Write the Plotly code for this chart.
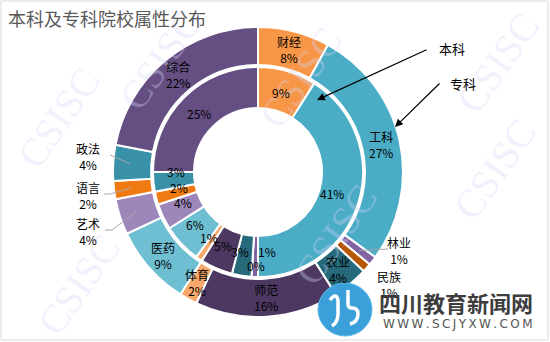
import math
import plotly.graph_objects as go

# ---------------- data ----------------
categories = ["财经", "工科", "林业", "民族", "农业", "师范", "体育", "医药", "艺术", "语言", "政法", "综合"]
benke_pct = [9, 41, 1, 0, 3, 5, 1, 6, 4, 2, 3, 25]      # inner ring (本科)
zhuanke_pct = [8, 27, 1, 1, 4, 16, 2, 9, 4, 2, 4, 22]   # outer ring (专科)
title_text = "本科及专科院校属性分布"
series_names = ["本科", "专科"]

# ---------------- style ----------------
colors = ["#F79646", "#4BACC6", "#8064A2", "#B65708", "#25697A", "#4C3860",
          "#F7A86A", "#6FBFD3", "#9C86BA", "#F07A12", "#3891A6", "#654E82"]
W, H = 550, 342
CX, CY = 258, 172
R_OUT, R_OUT_IN = 145, 107
R_IN, R_IN_IN = 105, 64
FONT = "Noto Sans CJK SC, Noto Sans, sans-serif"


def px(x):
    return x / W


def py(y):
    return 1 - y / H


def dom(r):
    return dict(x=[(CX - r) / W, (CX + r) / W], y=[(H - CY - r) / H, (H - CY + r) / H])


def mid_angles(vals):
    tot = float(sum(vals))
    out, cum = [], 0.0
    for v in vals:
        out.append((cum + v / 2) / tot * 2 * math.pi)
        cum += v
    return out


def polar(theta, r):
    return CX + r * math.sin(theta), CY - r * math.cos(theta)


def note(x, y, text, size=12, color="#000000", family=FONT, xanchor="center", **kw):
    d = dict(x=px(x), y=py(y), xref="paper", yref="paper", text=text, showarrow=False,
             xanchor=xanchor, yanchor="middle", align="center",
             font=dict(family=family, size=size, color=color))
    d.update(kw)
    return d


fig = go.Figure()
fig.add_trace(go.Pie(values=zhuanke_pct, labels=categories, name=series_names[1],
                     hole=R_OUT_IN / R_OUT, domain=dom(R_OUT), sort=False,
                     direction="clockwise", rotation=0,
                     marker=dict(colors=colors, line=dict(color="white", width=2)),
                     textinfo="none", showlegend=False))
fig.add_trace(go.Pie(values=benke_pct, labels=categories, name=series_names[0],
                     hole=R_IN_IN / R_IN, domain=dom(R_IN), sort=False,
                     direction="clockwise", rotation=0,
                     marker=dict(colors=colors, line=dict(color="white", width=2)),
                     textinfo="none", showlegend=False))

annotations = []
shapes = []

# watermark
for (wx, wy) in [(58, 118), (300, 78), (495, 170), (78, 285), (335, 235), (498, 62), (160, 60)]:
    annotations.append(note(wx, wy, "CSISC", size=40, color="rgba(215,215,250,0.35)",
                            family="Liberation Serif, DejaVu Serif, serif", textangle=-55))

# outer labels
outer_out = {"政法": (88, 156), "语言": (88, 195), "艺术": (88, 231), "林业": (399, 250), "民族": (389, 284)}
leaders = {"政法": [(110, 155)], "语言": [(110, 194), (104, 194)],
           "艺术": [(112, 230), (105, 230)], "林业": [(388, 249)]}
oang = mid_angles(zhuanke_pct)
for c, v, a in zip(categories, zhuanke_pct, oang):
    txt = f"{c}<br>{v}%"
    if c in outer_out:
        lx, ly = outer_out[c]
        if c in leaders:
            ax_, ay_ = polar(a, 128)
            pts = [(ax_, ay_)] + leaders[c]
            path = "M " + " L ".join(f"{px(x)},{py(y)}" for x, y in pts)
            shapes.append(dict(type="path", path=path, xref="paper", yref="paper",
                               line=dict(color="#A6A6A6", width=1)))
    else:
        lx, ly = polar(a, 126)
    annotations.append(note(lx, ly, txt))

# inner labels
inner_off = {"财经": (0, 0), "工科": (-6, -2), "政法": (1, -8), "语言": (1, -5), "艺术": (0, -5),
             "医药": (-2, -4), "体育": (-2, -3), "师范": (-2, -3), "农业": (-5, -2),
             "林业": (12, -3), "民族": (3, 11)}
iang = mid_angles(benke_pct)
for c, v, a in zip(categories, benke_pct, iang):
    lx, ly = polar(a, 83)
    dx, dy = inner_off.get(c, (0, 0))
    annotations.append(note(lx + dx, ly + dy, f"{v}%"))

# series callouts
annotations.append(note(452, 48, series_names[0], size=13))
annotations.append(note(463, 83, series_names[1], size=13))
annotations.append(dict(x=px(317), y=py(100), xref="paper", yref="paper", text="",
                        showarrow=True, ax=111, ay=-51, arrowhead=2, arrowsize=1.3,
                        arrowwidth=1.2, arrowcolor="#000", standoff=0))
annotations.append(dict(x=px(395), y=py(127), xref="paper", yref="paper", text="",
                        showarrow=True, ax=46, ay=-45, arrowhead=2, arrowsize=1.3,
                        arrowwidth=1.2, arrowcolor="#000", standoff=0))

# title
annotations.append(note(6, 18, title_text, size=18, color="#595959", xanchor="left"))

# logo
shapes.append(dict(type="circle", xref="paper", yref="paper",
                   x0=px(318), x1=px(372), y0=py(336), y1=py(283),
                   fillcolor="#3B9FDA", line=dict(color="#5DBDE8", width=1)))
shapes.append(dict(type="path", xref="paper", yref="paper",
                   path=f"M {px(330)},{py(300)} Q {px(336)},{py(292)} {px(338)},{py(300)} L {px(338)},{py(314)} Q {px(338)},{py(322)} {px(332)},{py(326)}",
                   line=dict(color="white", width=3.5)))
shapes.append(dict(type="path", xref="paper", yref="paper",
                   path=f"M {px(348)},{py(290)} L {px(348)},{py(304)} Q {px(348)},{py(308)} {px(352)},{py(308)} Q {px(358)},{py(308)} {px(358)},{py(314)} Q {px(358)},{py(322)} {px(350)},{py(324)}",
                   line=dict(color="white", width=3.5)))
annotations.append(note(377, 302, "<b>四川教育新闻网</b>", size=22, color="#3D3D3D", xanchor="left"))
url = "\u2009".join("WWW.SCJYXW.COM")
annotations.append(note(458, 324, url, size=12, color="#555555",
                        family="DejaVu Sans, sans-serif"))

# border
shapes.append(dict(type="rect", xref="paper", yref="paper", x0=px(1), x1=px(548),
                   y0=py(340), y1=py(1), line=dict(color="#D9D9D9", width=1)))

fig.update_layout(width=W, height=H, margin=dict(l=0, r=0, t=0, b=0, pad=0),
                  paper_bgcolor="white", plot_bgcolor="white",
                  annotations=annotations, shapes=shapes, showlegend=False)
fig.write_html("out.html")
